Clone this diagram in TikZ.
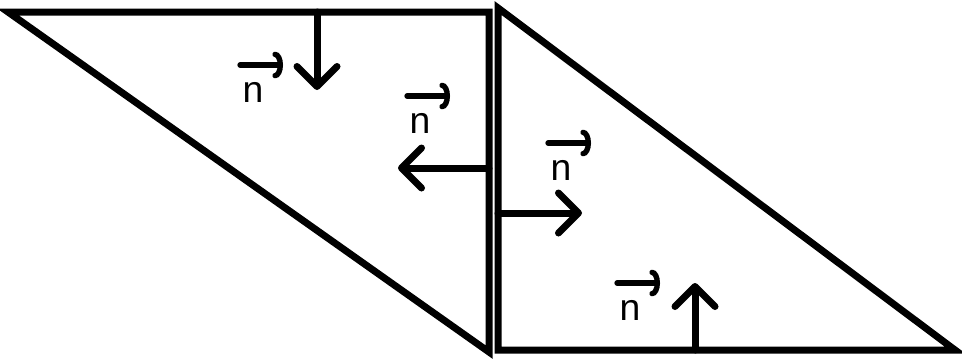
\documentclass[tikz,border=0pt]{standalone}
\usepackage{fontspec}
\setmainfont{Liberation Sans}
\usetikzlibrary{arrows.meta}

\begin{document}
\begin{tikzpicture}[
  x=0.75pt,y=-0.75pt,
  tri/.style={line width=5.25pt,line join=miter,draw=black},
  normarr/.style={line width=5.25pt,line cap=round,-{Straight Barb[length=15pt,width=30pt,line cap=round,line join=round]}},
  vecarr/.style={line width=4pt,line cap=round,-{Arc Barb[length=6pt,width=20pt,line cap=round]}},
  lab/.style={inner sep=0pt,font=\fontsize{28}{30}\selectfont}
]
\useasboundingbox (0,0) rectangle (962,358);
% corners of the two triangles
\coordinate (ltl) at (8,12);
\coordinate (ltr) at (489,12);
\coordinate (lbr) at (489,352);
\coordinate (rtl) at (498,8);
\coordinate (rbl) at (498,350);
\coordinate (rbr) at (955,350);
\draw[tri] (ltl) -- (ltr) -- (lbr) -- cycle;
\draw[tri] (rtl) -- (rbl) -- (rbr) -- cycle;
% feet and tips of the normals
\coordinate (base1) at (317,12);
\coordinate (tip1) at (317,90);
\coordinate (base2) at (489,168);
\coordinate (tip2) at (398,168);
\coordinate (base3) at (498,213);
\coordinate (tip3) at (582,213);
\coordinate (base4) at (695,350);
\coordinate (tip4) at (695,283);
\draw[normarr] (base1) -- (tip1);
\draw[normarr] (base2) -- (tip2);
\draw[normarr] (base3) -- (tip3);
\draw[normarr] (base4) -- (tip4);
% labels
\node[lab] (n1) at (253,92) {n};
\node[lab] (n2) at (420,123) {n};
\node[lab] (n3) at (561,170) {n};
\node[lab] (n4) at (630,310) {n};
\foreach \i in {1,2,3,4}
  \draw[vecarr] ([shift={(-13,-27)}]n\i.center) -- ++(43,0);
\end{tikzpicture}
\end{document}
